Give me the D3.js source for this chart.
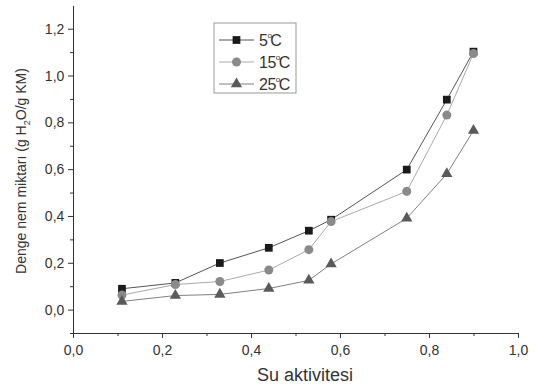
<html>
<head>
  <script src="https://d3js.org/d3.v7.min.js"></script>
  <style>
    body { margin: 0; background: #fff; }
    text { font-family: "Liberation Sans", Arial, sans-serif; fill: #333; }
    .axis path, .axis line { stroke: #333; }
  </style>
</head>
<body>
  <svg width="539" height="388" id="chart"></svg>
  <script>
    const aw = [0.11, 0.23, 0.33, 0.44, 0.53, 0.58, 0.75, 0.84, 0.90];
    const temp5 = [0.089, 0.114, 0.199, 0.264, 0.337, 0.384, 0.598, 0.897, 1.102];
    const temp15 = [0.062, 0.107, 0.12, 0.169, 0.256, 0.376, 0.505, 0.831, 1.094];
    const temp25 = [0.035, 0.06, 0.065, 0.09, 0.125, 0.195, 0.39, 0.58, 0.765];
    const seriesNames = ["5", "15", "25"];
    const xTicks = [0, 0.2, 0.4, 0.6, 0.8, 1.0];
    const yTicks = [0, 0.2, 0.4, 0.6, 0.8, 1.0, 1.2];

    const series = [
      { name: seriesNames[0], values: temp5, shape: d3.symbolSquare, size: 60, fill: "#1a1a1a", line: "#555" },
      { name: seriesNames[1], values: temp15, shape: d3.symbolCircle, size: 64, fill: "#8a8a8a", line: "#aaa" },
      { name: seriesNames[2], values: temp25, shape: d3.symbolTriangle, size: 55, fill: "#5a5a5a", line: "#808080" }
    ];

    const svg = d3.select("#chart");
    const x = d3.scaleLinear().domain([0, 1]).range([73, 518]);
    const y = d3.scaleLinear().domain([-0.1, 1.3]).range([333, 5.3]);
    const fmt = d => d3.format(".1f")(d).replace(".", ",");

    // axes: major + minor ticks
    svg.append("g").attr("class", "axis")
      .attr("transform", "translate(0,333)")
      .call(d3.axisBottom(x).tickValues(xTicks).tickFormat(fmt).tickSize(5).tickSizeOuter(0))
      .call(g => g.selectAll("text").attr("font-size", 14).attr("dy", "1.0em"));
    svg.append("g").attr("class", "axis")
      .attr("transform", "translate(0,333)")
      .call(d3.axisBottom(x).tickValues([0.1, 0.3, 0.5, 0.7, 0.9]).tickFormat("").tickSize(3).tickSizeOuter(0))
      .call(g => g.select(".domain").remove());

    svg.append("g").attr("class", "axis")
      .attr("transform", "translate(73,0)")
      .call(d3.axisLeft(y).tickValues(yTicks).tickFormat(fmt).tickSize(5).tickSizeOuter(0))
      .call(g => g.selectAll("text").attr("font-size", 14).attr("dx", "-0.05em"));
    svg.append("g").attr("class", "axis")
      .attr("transform", "translate(73,0)")
      .call(d3.axisLeft(y).tickValues([-0.1, 0.1, 0.3, 0.5, 0.7, 0.9, 1.1]).tickFormat("").tickSize(3).tickSizeOuter(0))
      .call(g => g.select(".domain").remove());

    // axis titles
    svg.append("text")
      .attr("x", 305).attr("y", 381)
      .attr("text-anchor", "middle").attr("font-size", 18)
      .text("Su aktivitesi");

    const yl = svg.append("text")
      .attr("transform", "translate(26,171) rotate(-90)")
      .attr("text-anchor", "middle").attr("font-size", 14);
    yl.append("tspan").text("Denge nem miktarı (g H");
    yl.append("tspan").attr("font-size", 9).attr("dy", 4).text("2");
    yl.append("tspan").attr("dy", -4).text("O/g KM)");

    // lines and markers
    const line = d3.line().x((d, i) => x(aw[i])).y(d => y(d));
    series.forEach(s => {
      svg.append("path")
        .attr("d", line(s.values))
        .attr("fill", "none")
        .attr("stroke", s.line)
        .attr("stroke-width", 1);
    });
    series.forEach(s => {
      svg.selectAll(null).data(s.values).join("path")
        .attr("transform", (d, i) => `translate(${x(aw[i])},${y(d)})`)
        .attr("d", d3.symbol(s.shape, s.size))
        .attr("fill", s.fill);
    });

    // legend
    const lg = svg.append("g");
    lg.append("rect")
      .attr("x", 214).attr("y", 23).attr("width", 82).attr("height", 70)
      .attr("fill", "#fff").attr("stroke", "#999").attr("stroke-width", 1);
    series.forEach((s, i) => {
      const cy = 40 + i * 22;
      lg.append("line")
        .attr("x1", 219).attr("x2", 254).attr("y1", cy).attr("y2", cy)
        .attr("stroke", s.line);
      lg.append("path")
        .attr("transform", `translate(236.5,${cy})`)
        .attr("d", d3.symbol(s.shape, s.size))
        .attr("fill", s.fill);
      const t = lg.append("text")
        .attr("x", 259).attr("y", cy + 6)
        .attr("font-size", 16).attr("letter-spacing", -0.5);
      t.append("tspan").text(s.name);
      t.append("tspan").attr("font-size", 8).attr("dy", -8).text("o");
      t.append("tspan").attr("dy", 8).attr("dx", -1).text("C");
    });
  </script>
</body>
</html>
